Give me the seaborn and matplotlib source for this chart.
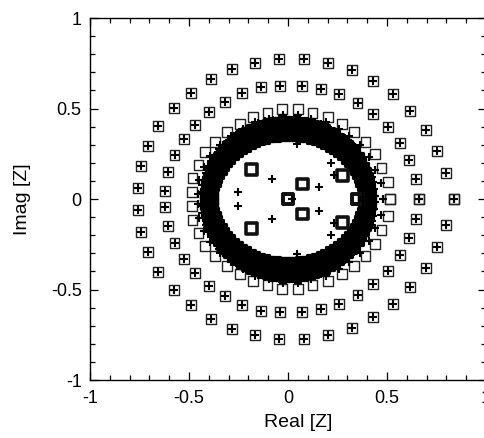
import numpy as np
import pandas as pd
import matplotlib.pyplot as plt
from matplotlib.ticker import MultipleLocator
import seaborn as sns

# Zeros. Only the upper half is listed, the lower half
# holds the complex conjugates (same x, negated y).

# outermost ring (square and plus at the same spot)
ring_a_x = [-0.759, -0.742, -0.707, -0.655, -0.576, -0.489, -0.390, -0.281, -0.165, -0.044,
            0.082, 0.203, 0.322, 0.430, 0.531, 0.618, 0.695, 0.754, 0.799, 0.838]
ring_a_y = [0.059, 0.182, 0.294, 0.403, 0.504, 0.587, 0.661, 0.717, 0.753, 0.772,
            0.772, 0.750, 0.713, 0.652, 0.578, 0.486, 0.381, 0.267, 0.145, 0.0]

# second ring
ring_b_x = [-0.620, -0.608, -0.573, -0.527, -0.469, -0.398, -0.319, -0.232, -0.136, -0.040,
            0.071, 0.166, 0.258, 0.351, 0.430, 0.505, 0.564, 0.611, 0.645, 0.662]
ring_b_y = [0.046, 0.147, 0.243, 0.330, 0.409, 0.479, 0.538, 0.584, 0.617, 0.626,
            0.626, 0.608, 0.578, 0.529, 0.468, 0.396, 0.311, 0.215, 0.110, 0.0]

# squares sitting on the outer edge of the dense band
ring_c_x = [-0.485, -0.482, -0.452, -0.418, -0.368, -0.309, -0.242, -0.178, -0.104, -0.029,
            0.052, 0.124, 0.203, 0.273, 0.332, 0.391, 0.438, 0.472, 0.505, 0.515]
ring_c_y = [0.040, 0.114, 0.188, 0.258, 0.317, 0.372, 0.414, 0.455, 0.473, 0.497,
            0.497, 0.473, 0.455, 0.414, 0.372, 0.317, 0.247, 0.170, 0.096, 0.0]

# pluses just inside those squares
ring_c_plus_x = [-0.455, -0.450, -0.425, -0.392, -0.345, -0.290, -0.225, -0.165, -0.095, -0.025,
                 0.050, 0.118, 0.190, 0.255, 0.310, 0.365, 0.410, 0.440, 0.470, 0.480]
ring_c_plus_y = [0.030, 0.105, 0.175, 0.240, 0.297, 0.347, 0.388, 0.425, 0.442, 0.462,
                 0.462, 0.442, 0.425, 0.387, 0.347, 0.296, 0.230, 0.158, 0.090, 0.0]

# dense band around |z| ~ 0.4 (angle in degrees, radii per layer)
band_ang = [0, 4, 8, 12, 16, 20, 24, 28, 32, 36, 40, 44, 48, 52, 56, 60, 64, 68, 72, 76,
            80, 84, 88, 92, 96, 100, 104, 108, 112, 116, 120, 124, 128, 132, 136, 140,
            144, 148, 152, 156, 160, 164, 168, 172, 176, 180]
band_sq_rx = [0.385, 0.390, 0.395, 0.400, 0.405, 0.410, 0.415]
band_sq_ry = [0.355, 0.367, 0.378, 0.390, 0.402, 0.414, 0.425]
band_pl_ang = [2, 7, 12, 16, 21, 26, 30, 35, 40, 44, 49, 54, 58, 63, 68, 72, 77, 82, 86,
               91, 96, 100, 105, 110, 114, 119, 124, 128, 133, 138, 142, 147, 152, 156,
               161, 166, 170, 175]
band_pl_rx = [0.38, 0.40, 0.42, 0.44]
band_pl_ry = [0.36, 0.39, 0.42, 0.445]

# inner zeros
inner_sq_x = [-0.183, 0.072, 0.0, 0.274, 0.350]
inner_sq_y = [0.164, 0.083, 0.0, 0.129, 0.0]
inner_plus_x = [0.044, 0.215, 0.233, -0.082, 0.156, -0.255, 0.018]
inner_plus_y = [0.302, 0.200, 0.133, 0.110, 0.068, 0.040, 0.0]


def conj(xs, ys):
    x = np.asarray(xs, dtype=float)
    y = np.asarray(ys, dtype=float)
    return pd.DataFrame({"x": np.concatenate([x, x]), "y": np.concatenate([y, -y])})


def band(ang, rx, ry):
    t = np.deg2rad(np.asarray(ang, dtype=float))
    xs, ys = [], []
    for a, b in zip(rx, ry):
        xs.extend(a * np.cos(t))
        ys.extend(b * np.sin(t))
    return conj(xs, ys)


squares = pd.concat([conj(ring_a_x, ring_a_y), conj(ring_b_x, ring_b_y),
                     conj(ring_c_x, ring_c_y)])
band_sq = band(band_ang, band_sq_rx, band_sq_ry)
pluses = pd.concat([conj(ring_a_x, ring_a_y), conj(ring_b_x, ring_b_y),
                    conj(ring_c_plus_x, ring_c_plus_y),
                    band(band_pl_ang, band_pl_rx, band_pl_ry),
                    conj(inner_plus_x, inner_plus_y)])
inner_sq = conj(inner_sq_x, inner_sq_y)

sns.set_style("ticks")
plt.rcParams["font.family"] = ["Liberation Sans", "DejaVu Sans"]

fig = plt.figure(figsize=(4.85, 4.38), dpi=100)
ax = fig.add_axes([0.1856, 0.1324, 0.8165, 0.8265])

sns.scatterplot(data=squares, x="x", y="y", ax=ax, marker="s", s=50,
                facecolor="none", edgecolor="#222222", linewidth=1.0, legend=False)
sns.scatterplot(data=band_sq, x="x", y="y", ax=ax, marker="s", s=48,
                facecolor="none", edgecolor="black", linewidth=2.3, legend=False)
sns.scatterplot(data=inner_sq, x="x", y="y", ax=ax, marker="s", s=62,
                facecolor="none", edgecolor="#111111", linewidth=2.6, legend=False)
sns.scatterplot(data=pluses, x="x", y="y", ax=ax, marker="+", s=30,
                color="black", linewidth=1.5, legend=False)

ax.set_xlim(-1, 1)
ax.set_ylim(-1, 1)
ticks = [-1, -0.5, 0, 0.5, 1]
tick_labels = ["-1", "-0.5", "0", "0.5", "1"]
ax.set_xticks(ticks)
ax.set_xticklabels(tick_labels)
ax.set_yticks(ticks)
ax.set_yticklabels(tick_labels)
ax.xaxis.set_minor_locator(MultipleLocator(0.1))
ax.yaxis.set_minor_locator(MultipleLocator(0.1))
ax.tick_params(which="both", direction="in", top=True, right=True, width=0.9,
               colors="black", labelsize=13)
ax.tick_params(which="major", length=6)
ax.tick_params(which="minor", length=3.5)
ax.tick_params(axis="x", pad=7)
ax.tick_params(axis="y", pad=6)
for sp in ax.spines.values():
    sp.set_linewidth(1.0)
    sp.set_color("black")

ax.set_xlabel("Real [Z]", fontsize=14, color="black")
ax.set_ylabel("Imag [Z]", fontsize=14, color="black")
ax.xaxis.set_label_coords(0.525, -0.095)
ax.yaxis.set_label_coords(-0.148, 0.5)

fig.savefig("out.png", dpi=100)
plt.close(fig)
